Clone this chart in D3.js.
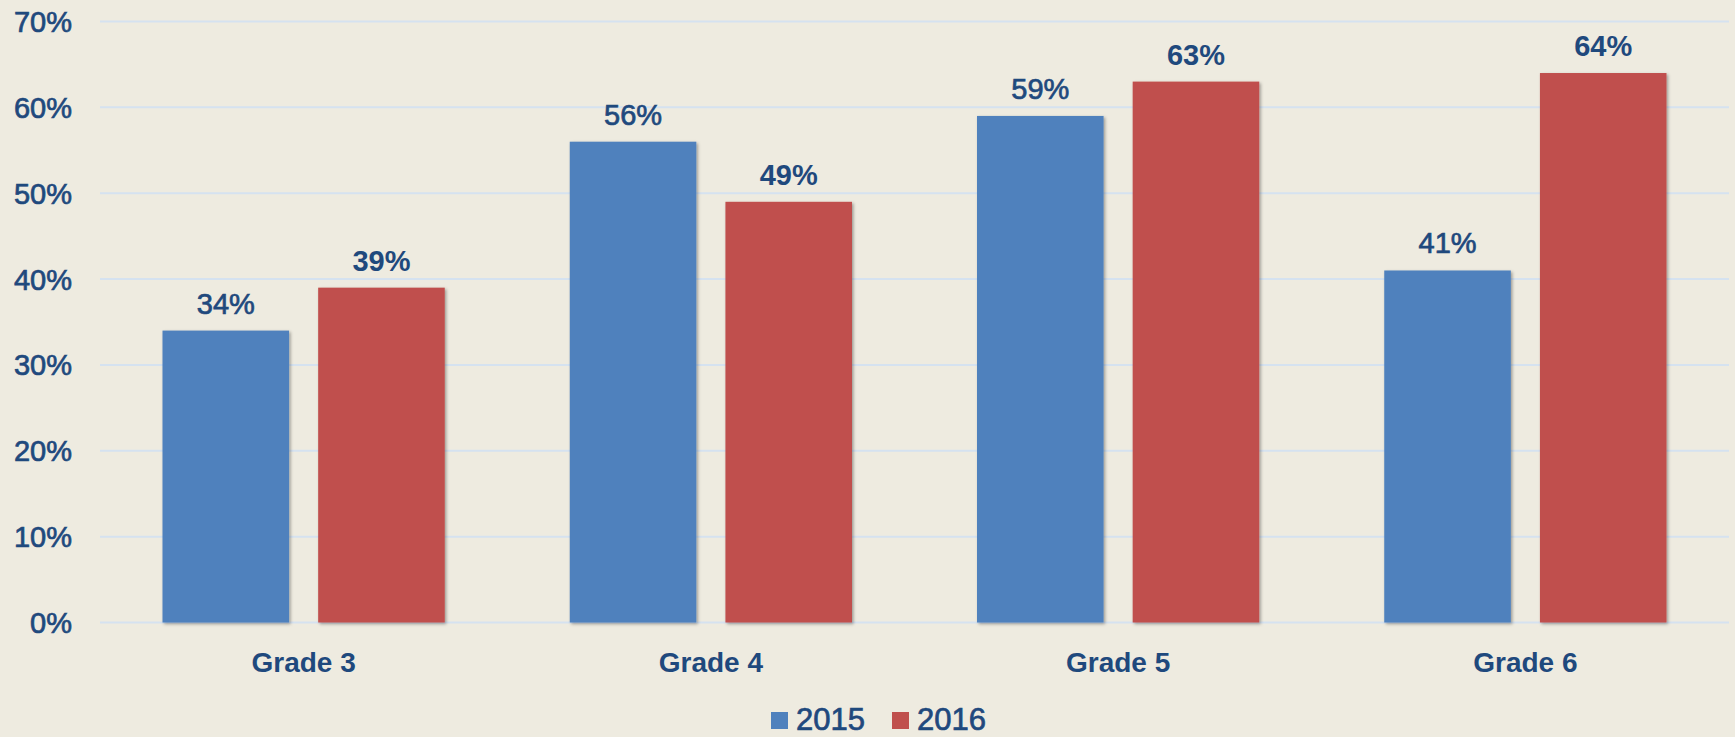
<!DOCTYPE html>
<html>
<head>
<meta charset="utf-8">
<script src="https://cdn.jsdelivr.net/npm/d3@7"></script>
<style>
  body { margin:0; background:#EEEBE0; }
  svg { display:block; }
  text { font-family:"Liberation Sans", Arial, sans-serif; fill:#1F497D; }
  .heavy { stroke:#1F497D; stroke-width:0.7px; }
</style>
</head>
<body>
<svg width="1735" height="737"></svg>
<script>
const GRADES = ["Grade 3", "Grade 4", "Grade 5", "Grade 6"];
const YEARS = ["2015", "2016"];
const VALUES_2015 = [34, 56, 59, 41];
const VALUES_2016 = [39, 49, 63, 64];
const Y_TICKS = [0, 10, 20, 30, 40, 50, 60, 70];
const COLORS = ["#4F81BD", "#C0504D"];

const DATA = GRADES.map((g, i) => ({grade:g, vals:[VALUES_2015[i], VALUES_2016[i]]}));

const svg = d3.select("svg");
const plotLeft = 100, plotRight = 1729, plotTop = 21.5, plotBottom = 622.5;

const yScale = d3.scaleLinear().domain([0, 70]).range([plotBottom, plotTop]);

const x0 = d3.scaleBand().domain(GRADES).range([plotLeft, plotRight]).padding(0);
const x1 = d3.scaleBand().domain(YEARS)
  .range([62.5, x0.bandwidth() - 62.5])
  .paddingInner(0.187);

const defs = svg.append("defs");
const f = defs.append("filter").attr("id", "shadow")
  .attr("x", "-10%").attr("y", "-10%").attr("width", "125%").attr("height", "125%");
f.append("feDropShadow").attr("dx", 1.5).attr("dy", 1.5).attr("stdDeviation", 1.5)
  .attr("flood-color", "#000").attr("flood-opacity", 0.35);

// gridlines
svg.append("g")
  .selectAll("line")
  .data(Y_TICKS)
  .enter()
  .append("line")
  .attr("x1", plotLeft).attr("x2", plotRight)
  .attr("y1", d => yScale(d)).attr("y2", d => yScale(d))
  .attr("stroke", "#D5E2F0")
  .attr("stroke-width", 2);

// y labels
svg.append("g")
  .selectAll("text")
  .data(Y_TICKS)
  .enter()
  .append("text")
  .classed("heavy", true)
  .attr("x", 72)
  .attr("y", d => yScale(d))
  .attr("dy", "0.36em")
  .attr("text-anchor", "end")
  .style("font-size", "29px")
  .text(d => d + "%");

// bars
const groups = svg.append("g")
  .selectAll("g")
  .data(DATA)
  .enter()
  .append("g")
  .attr("transform", d => `translate(${x0(d.grade)},0)`);

groups.selectAll("rect")
  .data(d => d.vals.map((v, i) => ({year:YEARS[i], v:v, i:i})))
  .enter()
  .append("rect")
  .attr("x", d => x1(d.year))
  .attr("width", x1.bandwidth())
  .attr("y", d => yScale(d.v))
  .attr("height", d => yScale(0) - yScale(d.v))
  .attr("fill", d => COLORS[d.i])
  .attr("filter", "url(#shadow)");

groups.selectAll("text")
  .data(d => d.vals.map((v, i) => ({year:YEARS[i], v:v, i:i})))
  .enter()
  .append("text")
  .classed("heavy", d => d.i === 0)
  .attr("x", d => x1(d.year) + x1.bandwidth() / 2)
  .attr("y", d => yScale(d.v) - 17)
  .attr("text-anchor", "middle")
  .style("font-size", "29px")
  .style("font-weight", d => d.i === 1 ? "bold" : "normal")
  .text(d => d.v + "%");

// category labels
svg.append("g")
  .selectAll("text")
  .data(GRADES)
  .enter()
  .append("text")
  .attr("x", d => x0(d) + x0.bandwidth() / 2)
  .attr("y", 672)
  .attr("text-anchor", "middle")
  .style("font-size", "28px")
  .style("font-weight", "bold")
  .text(d => d);

// legend
const legend = svg.append("g");
const legendX = [771, 892];
YEARS.forEach((yr, i) => {
  legend.append("rect")
    .attr("x", legendX[i]).attr("y", 712)
    .attr("width", 17).attr("height", 17)
    .attr("fill", COLORS[i]);
  legend.append("text")
    .classed("heavy", true)
    .attr("x", legendX[i] + 25).attr("y", 730)
    .style("font-size", "31px")
    .text(yr);
});
</script>
</body>
</html>
